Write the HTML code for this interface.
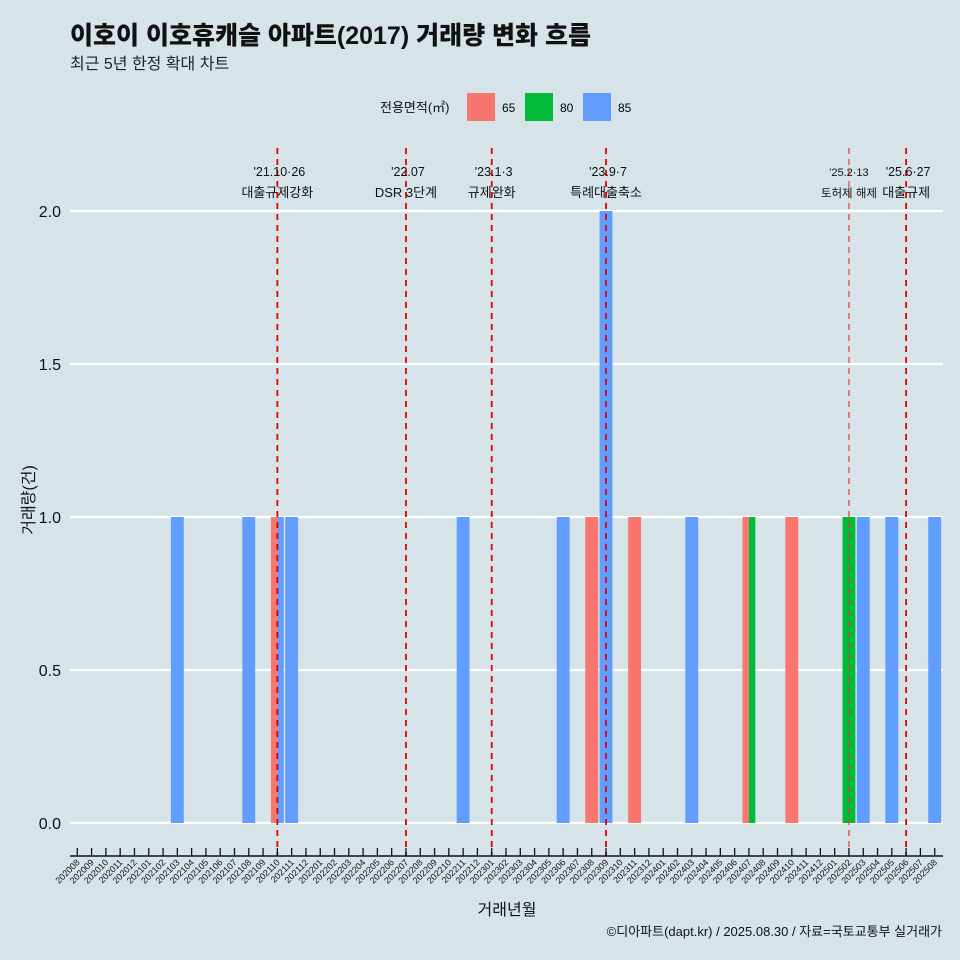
<!DOCTYPE html>
<html><head><meta charset="utf-8"><style>
html,body{margin:0;padding:0;background:#d6e4ea;overflow:hidden;}
svg{display:block;}
svg text{font-family:"Liberation Sans","Noto Sans CJK KR",sans-serif;}
</style></head><body>
<svg id="chart" width="960" height="960" xmlns="http://www.w3.org/2000/svg">
<rect width="960" height="960" fill="#d6e4ea"/>
<text x="70" y="44" font-size="25" font-weight="900" fill="#111">이호이 이호휴캐슬 아파트(2017) 거래량 변화 흐름</text>
<text x="70" y="69" font-size="16" fill="#222">최근 5년 한정 확대 차트</text>
<g>
<text x="380" y="112" font-size="13" fill="#111">전용면적(㎡)</text>
<rect x="467" y="93" width="28" height="28" fill="#f8766d"/>
<text x="502" y="112" font-size="12">65</text>
<rect x="525" y="93" width="28" height="28" fill="#00ba38"/>
<text x="560" y="112" font-size="12">80</text>
<rect x="583" y="93" width="28" height="28" fill="#619cff"/>
<text x="618" y="112" font-size="12">85</text>
</g>
<g id="grid"></g><g id="bars"></g><g id="vlines"></g><g id="xaxis"></g>
<text x="507" y="915" font-size="16" text-anchor="middle" fill="#111">거래년월</text>
<text transform="translate(34,500) rotate(-90)" font-size="16" text-anchor="middle" fill="#111">거래량(건)</text>
<text x="942" y="936" font-size="13" text-anchor="end" fill="#111">©디아파트(dapt.kr) / 2025.08.30 / 자료=국토교통부 실거래가</text>
</svg>
<script>
const ns='http://www.w3.org/2000/svg';
const months=[];for(let y=2020,m=8;!(y===2025&&m===9);){months.push(''+y+(m<10?'0':'')+m);m++;if(m>12){m=1;y++;}}
const yTicks=[0,0.5,1,1.5,2];
const yTickLabels=['0.0','0.5','1.0','1.5','2.0'];
const barMonths=['202103','202108','202110','202110','202111','202211','202306','202308','202309','202311','202403','202407','202407','202410','202502','202503','202505','202508'];
const barAreas=['85','85','65','85','85','85','85','65','85','65','85','65','80','65','80','85','85','85'];
const barValues=[1,1,1,1,1,1,1,1,2,1,1,1,1,1,1,1,1,1];
const eventMonths=['202110','202207','202301','202309','202502','202506'];
const eventDates=["'21.10·26","'22.07","'23.1·3","'23.9·7","'25.2·13","'25.6·27"];
const eventNames=['대출규제강화','DSR 3단계','규제완화','특례대출축소','토허제 해제','대출규제'];
const colors={'65':'#f8766d','80':'#00ba38','85':'#619cff'};
const step=14.29,x0=77.3;
const X=m=>x0+months.indexOf(m)*step;
const Y=v=>823-v*306;
function mk(t,a,p){const e=document.createElementNS(ns,t);for(const k in a)e.setAttribute(k,a[k]);p.appendChild(e);return e;}
const grid=document.getElementById('grid');
yTicks.forEach((v,i)=>{
 const l=mk('line',{x1:70,x2:943,y1:Y(v),y2:Y(v),stroke:'#fff','stroke-width':2.2},grid);
 
 
 const t=mk('text',{x:61,y:Y(v)+6,'font-size':16,'text-anchor':'end',fill:'#111'},grid);
 t.textContent=yTickLabels[i];
 
 
});
const bars=document.getElementById('bars');
const bw=step*0.9;
barMonths.forEach((m,i)=>{
 const same=barMonths.map((mm,j)=>mm===m?j:-1).filter(j=>j>=0);
 const n=same.length,k=same.indexOf(i),w=bw/n;
 const r=mk('rect',{x:X(m)-bw/2+k*w,y:Y(barValues[i]),width:w,height:Y(0)-Y(barValues[i]),fill:colors[barAreas[i]]},bars);
 
 
});
const vl=document.getElementById('vlines');
eventMonths.forEach((m,i)=>{
 const small=m==='202502';
 const l=mk('line',{x1:X(m),x2:X(m),y1:148,y2:856,stroke:small?'#ee3333':'#e00000','stroke-width':small?1.2:1.8,'stroke-dasharray':'6,5'},vl);
 
 
 const fs=small?11:12.5;
 const t1=mk('text',{x:X(m)+(small?0:2),y:176,'font-size':fs,'text-anchor':'middle',fill:'#111'},vl);
 t1.textContent=eventDates[i];
 
 
 const t2=mk('text',{x:X(m),y:197,'font-size':fs+0.5,'text-anchor':'middle',fill:'#111'},vl);
 t2.textContent=eventNames[i];
 
 
});
const xa=document.getElementById('xaxis');
const ax=mk('line',{x1:70,x2:943,y1:856,y2:856,stroke:'#111','stroke-width':1.5},xa);


months.forEach(m=>{
 const t=mk('line',{x1:X(m),x2:X(m),y1:848,y2:856,stroke:'#111','stroke-width':1.3},xa);
 
 
 const tx=mk('text',{x:X(m)+3,y:863,'font-size':9,'text-anchor':'end',fill:'#111',transform:`rotate(-45 ${X(m)+3} 863)`},xa);
 tx.textContent=m;
 
 
});
</script>
</body></html>
